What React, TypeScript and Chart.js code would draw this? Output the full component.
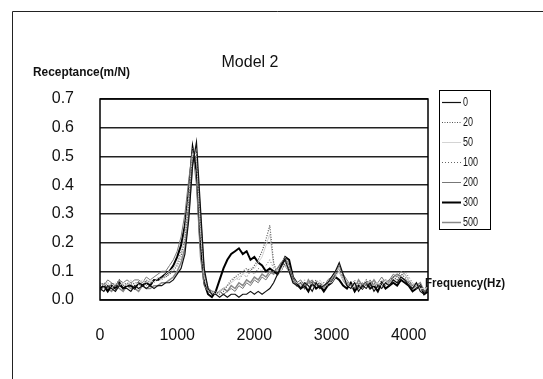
import React, { useEffect, useRef } from "react";
import { Chart, registerables } from "chart.js";

Chart.register(...registerables);

// Frequency grid (Hz), 50 Hz steps
const frequencies: number[] = [];
for (let f = 0; f <= 4250; f += 50) frequencies.push(f);

const seriesLabels = ["0", "20", "50", "100", "200", "300", "500"];

const s0 = [
  0.04, 0.03, 0.05, 0.04, 0.03, 0.05, 0.04, 0.04, 0.03, 0.05,
  0.04, 0.05, 0.04, 0.05, 0.04, 0.05, 0.05, 0.06, 0.06, 0.07,
  0.09, 0.11, 0.16, 0.28, 0.47, 0.55, 0.33, 0.11, 0.04, 0.02,
  0.02, 0.01, 0.02, 0.01, 0.02, 0.02, 0.01, 0.02, 0.02, 0.03,
  0.02, 0.03, 0.02, 0.03, 0.04, 0.06, 0.09, 0.12, 0.14, 0.1,
  0.06, 0.05, 0.04, 0.06, 0.05, 0.03, 0.06, 0.04, 0.05, 0.06,
  0.08, 0.1, 0.13, 0.09, 0.05, 0.04, 0.06, 0.03, 0.05, 0.04,
  0.06, 0.03, 0.05, 0.04, 0.06, 0.05, 0.07, 0.06, 0.08, 0.07,
  0.05, 0.04, 0.06, 0.03, 0.02, 0.04,
];
const s20 = [
  0.05, 0.06, 0.04, 0.06, 0.05, 0.07, 0.05, 0.06, 0.05, 0.06,
  0.06, 0.05, 0.07, 0.06, 0.07, 0.07, 0.08, 0.08, 0.09, 0.1,
  0.12, 0.15, 0.21, 0.34, 0.5, 0.52, 0.28, 0.1, 0.04, 0.03,
  0.03, 0.02, 0.03, 0.05, 0.07, 0.08, 0.09, 0.1, 0.11, 0.1,
  0.12, 0.14, 0.17, 0.21, 0.26, 0.13, 0.09, 0.1, 0.13, 0.11,
  0.07, 0.05, 0.06, 0.04, 0.06, 0.05, 0.07, 0.05, 0.06, 0.05,
  0.07, 0.09, 0.11, 0.08, 0.06, 0.05, 0.04, 0.06, 0.05, 0.07,
  0.05, 0.06, 0.04, 0.06, 0.05, 0.07, 0.08, 0.07, 0.09, 0.08,
  0.06, 0.05, 0.04, 0.05, 0.03, 0.04,
];
const s50 = [
  0.06, 0.05, 0.06, 0.04, 0.06, 0.05, 0.06, 0.05, 0.07, 0.05,
  0.06, 0.07, 0.06, 0.07, 0.06, 0.08, 0.07, 0.09, 0.1, 0.11,
  0.13, 0.16, 0.23, 0.36, 0.51, 0.5, 0.25, 0.08, 0.04, 0.03,
  0.02, 0.03, 0.04, 0.05, 0.06, 0.07, 0.08, 0.09, 0.1, 0.11,
  0.11, 0.13, 0.15, 0.19, 0.23, 0.12, 0.1, 0.11, 0.12, 0.1,
  0.07, 0.06, 0.05, 0.06, 0.05, 0.06, 0.05, 0.07, 0.05, 0.06,
  0.06, 0.08, 0.1, 0.07, 0.06, 0.04, 0.05, 0.06, 0.04, 0.06,
  0.06, 0.05, 0.06, 0.05, 0.07, 0.06, 0.07, 0.08, 0.08, 0.09,
  0.07, 0.06, 0.05, 0.04, 0.04, 0.03,
];
const s100 = [
  0.05, 0.04, 0.06, 0.05, 0.04, 0.06, 0.05, 0.05, 0.06, 0.04,
  0.05, 0.06, 0.05, 0.06, 0.06, 0.07, 0.07, 0.08, 0.09, 0.11,
  0.13, 0.17, 0.25, 0.4, 0.53, 0.47, 0.22, 0.07, 0.03, 0.02,
  0.03, 0.03, 0.04, 0.05, 0.06, 0.08, 0.07, 0.09, 0.08, 0.1,
  0.09, 0.11, 0.1, 0.12, 0.14, 0.11, 0.1, 0.12, 0.14, 0.12,
  0.08, 0.06, 0.05, 0.07, 0.04, 0.06, 0.05, 0.06, 0.04, 0.06,
  0.07, 0.08, 0.12, 0.08, 0.06, 0.05, 0.07, 0.04, 0.06, 0.05,
  0.04, 0.06, 0.05, 0.07, 0.05, 0.06, 0.08, 0.07, 0.08, 0.1,
  0.08, 0.06, 0.05, 0.05, 0.04, 0.05,
];
const s200 = [
  0.06, 0.05, 0.07, 0.06, 0.05, 0.07, 0.06, 0.07, 0.06, 0.07,
  0.07, 0.06, 0.08, 0.07, 0.08, 0.09, 0.1, 0.1, 0.12, 0.14,
  0.17, 0.22, 0.3, 0.42, 0.52, 0.4, 0.15, 0.05, 0.03, 0.02,
  0.02, 0.03, 0.02, 0.03, 0.04, 0.03, 0.05, 0.04, 0.06, 0.05,
  0.07, 0.06, 0.08, 0.07, 0.09, 0.1, 0.11, 0.13, 0.15, 0.12,
  0.08, 0.06, 0.07, 0.05, 0.06, 0.07, 0.05, 0.06, 0.04, 0.07,
  0.08, 0.1, 0.12, 0.09, 0.07, 0.05, 0.06, 0.04, 0.06, 0.05,
  0.07, 0.05, 0.06, 0.08, 0.06, 0.07, 0.09, 0.08, 0.1, 0.09,
  0.07, 0.05, 0.06, 0.04, 0.03, 0.05,
];
const s300 = [
  0.04, 0.05, 0.03, 0.05, 0.04, 0.06, 0.04, 0.05, 0.05, 0.04,
  0.06, 0.05, 0.06, 0.05, 0.07, 0.07, 0.08, 0.09, 0.1, 0.12,
  0.15, 0.19, 0.26, 0.38, 0.53, 0.45, 0.2, 0.06, 0.02, 0.01,
  0.03, 0.07, 0.11, 0.14, 0.16, 0.17, 0.18, 0.16, 0.17, 0.14,
  0.15, 0.13, 0.12, 0.1, 0.11, 0.1, 0.09, 0.12, 0.15, 0.14,
  0.08, 0.06, 0.04, 0.05, 0.03, 0.06, 0.04, 0.05, 0.03, 0.05,
  0.06, 0.08, 0.07, 0.05, 0.04, 0.06, 0.03, 0.05, 0.04, 0.06,
  0.04, 0.05, 0.03, 0.06, 0.04, 0.05, 0.06, 0.05, 0.07, 0.06,
  0.05, 0.03, 0.04, 0.05, 0.02, 0.03,
];
const s500 = [
  0.03, 0.05, 0.04, 0.03, 0.05, 0.04, 0.03, 0.05, 0.04, 0.04,
  0.03, 0.05, 0.04, 0.04, 0.05, 0.05, 0.06, 0.06, 0.07, 0.08,
  0.1, 0.13, 0.18, 0.3, 0.48, 0.5, 0.3, 0.09, 0.04, 0.03,
  0.02, 0.03, 0.04, 0.03, 0.05, 0.04, 0.06, 0.05, 0.07, 0.06,
  0.08, 0.07, 0.09, 0.08, 0.1, 0.09, 0.11, 0.13, 0.12, 0.1,
  0.07, 0.05, 0.06, 0.04, 0.07, 0.05, 0.06, 0.04, 0.05, 0.06,
  0.07, 0.09, 0.1, 0.07, 0.05, 0.06, 0.04, 0.07, 0.05, 0.06,
  0.05, 0.07, 0.05, 0.06, 0.07, 0.06, 0.08, 0.09, 0.08, 0.07,
  0.06, 0.04, 0.05, 0.06, 0.03, 0.04,
];

const seriesValues = [s0, s20, s50, s100, s200, s300, s500];
const xTickValues = [0, 1000, 2000, 3000, 4000];
const yTickStep = 0.1;

const seriesStyles = [
  { color: "#111111", width: 1.2, dash: [] as number[] },
  { color: "#555555", width: 1.2, dash: [1, 1.5] },
  { color: "#d4d4d4", width: 1, dash: [] as number[] },
  { color: "#666666", width: 1, dash: [1, 2] },
  { color: "#777777", width: 1, dash: [] as number[] },
  { color: "#000000", width: 2, dash: [] as number[] },
  { color: "#888888", width: 1.5, dash: [] as number[] },
];

const FONT = "'Liberation Sans', Arial, sans-serif";

function fitText(ctx: CanvasRenderingContext2D, text: string, x: number, y: number, width: number, font: string) {
  ctx.save();
  ctx.font = font;
  ctx.textAlign = "left";
  ctx.textBaseline = "middle";
  const w = ctx.measureText(text).width;
  ctx.translate(x, y);
  ctx.scale(width / w, 1);
  ctx.fillText(text, 0, 0);
  ctx.restore();
}

const decorPlugin = {
  id: "decor",
  afterDraw(chart: any) {
    const ctx: CanvasRenderingContext2D = chart.ctx;
    const a = chart.chartArea;
    ctx.save();
    // outer frame
    ctx.strokeStyle = "#222";
    ctx.lineWidth = 1;
    ctx.beginPath();
    ctx.moveTo(12.5, 379);
    ctx.lineTo(12.5, 11.5);
    ctx.lineTo(543, 11.5);
    ctx.stroke();
    // plot border
    ctx.strokeStyle = "#000";
    ctx.lineWidth = 1.5;
    ctx.strokeRect(a.left, a.top, a.right - a.left, a.bottom - a.top);
    // title
    ctx.fillStyle = "#111";
    ctx.font = `16px ${FONT}`;
    ctx.textAlign = "center";
    ctx.textBaseline = "alphabetic";
    ctx.fillText("Model 2", 250, 67);
    // axis titles
    fitText(ctx, "Receptance(m/N)", 33, 73, 97, `bold 12px ${FONT}`);
    fitText(ctx, "Frequency(Hz)", 425, 284, 80, `bold 12px ${FONT}`);
    // legend
    ctx.strokeStyle = "#000";
    ctx.lineWidth = 1;
    ctx.strokeRect(439.5, 90.5, 51, 139);
    chart.data.datasets.forEach((ds: any, i: number) => {
      const y = 102 + i * 20;
      ctx.save();
      ctx.strokeStyle = ds.borderColor;
      ctx.lineWidth = ds.borderWidth;
      ctx.setLineDash(ds.borderDash || []);
      ctx.beginPath();
      ctx.moveTo(442, y + 0.5);
      ctx.lineTo(461, y + 0.5);
      ctx.stroke();
      ctx.restore();
      ctx.save();
      ctx.fillStyle = "#111";
      ctx.font = `12px ${FONT}`;
      ctx.textBaseline = "middle";
      ctx.textAlign = "left";
      ctx.translate(463, y + 1);
      ctx.scale(0.75, 1);
      ctx.fillText(ds.label, 0, 0);
      ctx.restore();
    });
    ctx.restore();
  },
};

export default function App() {
  const canvasRef = useRef<HTMLCanvasElement | null>(null);

  useEffect(() => {
    const canvas = canvasRef.current;
    if (!canvas) return;
    const datasets = seriesLabels.map((label, si) => ({
      label,
      data: frequencies.map((f, i) => ({ x: f, y: seriesValues[si][i] })),
      borderColor: seriesStyles[si].color,
      borderWidth: seriesStyles[si].width,
      borderDash: seriesStyles[si].dash,
      pointRadius: 0,
      tension: 0,
      fill: false,
    }));
    const chart = new Chart(canvas, {
      type: "line",
      data: { datasets },
      options: {
        responsive: false,
        animation: false,
        layout: { padding: { top: 99, right: 115, left: 0, bottom: 0 } },
        plugins: {
          legend: { display: false },
          title: { display: false },
          tooltip: { enabled: false },
        },
        scales: {
          x: {
            type: "linear",
            min: 0,
            max: 4250,
            grid: { display: false },
            border: { display: false },
            afterBuildTicks: (scale: any) => {
              scale.ticks = xTickValues.map((v) => ({ value: v }));
            },
            afterFit: (scale: any) => {
              scale.height = 79;
            },
            ticks: {
              padding: 18,
              maxRotation: 0,
              autoSkip: false,
              color: "#111",
              font: { family: FONT, size: 16 },
              callback: (v: any) => String(v),
            },
          },
          y: {
            min: 0,
            max: 0.7,
            grid: { color: "#222", lineWidth: 1.5, drawTicks: false },
            border: { display: false },
            afterFit: (scale: any) => {
              scale.width = 100;
            },
            ticks: {
              stepSize: yTickStep,
              padding: 26,
              color: "#111",
              font: { family: FONT, size: 16 },
              callback: (v: any) => Number(v).toFixed(1),
            },
          },
        },
      },
      plugins: [decorPlugin],
    } as any);
    return () => chart.destroy();
  }, []);

  return (
    <div style={{ position: "absolute", left: 0, top: 0, width: 543, height: 379, background: "#fff" }}>
      <canvas ref={canvasRef} width={543} height={379} style={{ width: 543, height: 379, display: "block" }} />
    </div>
  );
}
